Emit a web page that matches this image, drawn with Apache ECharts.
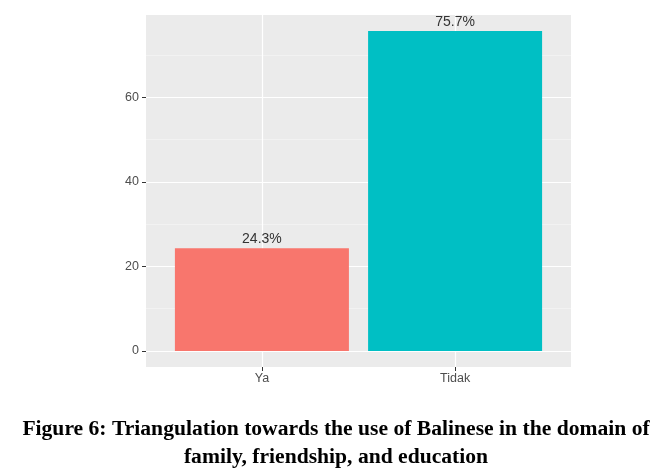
<!DOCTYPE html>
<html>
<head>
<meta charset="utf-8">
<script src="https://cdn.jsdelivr.net/npm/echarts@6/dist/echarts.min.js"></script>
<style>
  html, body { margin: 0; padding: 0; background: #fff; }
  #container1 { width: 653px; height: 476px; }
</style>
</head>
<body>
<div id="container1"></div>
<script>
// categories and percentages
var categories = ['Ya', 'Tidak'];
var values = [24.3, 75.7];
var barColors = ['#F8766D', '#00BFC4'];
var yMajorTicks = [0, 20, 40, 60];
var yMinorTicks = [10, 30, 50, 70];
var caption = 'Figure 6: Triangulation towards the use of Balinese in the domain of\nfamily, friendship, and education';

var dom = document.getElementById('container1');
var myChart = echarts.init(dom);

// ggplot style: 5% expansion on y, 0.6 on discrete x
var yMax = Math.max.apply(null, values);
var yPad = yMax * 0.05;

var barData = values.map(function (v, i) {
    return {
        value: [i + 1, v],
        itemStyle: { color: barColors[i] }
    };
});

var option = {
    animation: false,
    title: {
        text: caption,
        left: 336,
        top: 415,
        padding: 0,
        textAlign: 'center',
        textStyle: {
            fontFamily: 'Liberation Serif',
            fontWeight: 'bold',
            fontSize: 21.6,
            lineHeight: 28,
            color: '#000'
        }
    },
    grid: {
        left: 146, top: 15, width: 425, height: 352,
        show: true,
        backgroundColor: '#EBEBEB',
        borderWidth: 0
    },
    xAxis: {
        type: 'value',
        min: 0.4,
        max: categories.length + 0.6,
        axisLine: { show: false, onZero: false },
        axisTick: { show: true, length: 4, customValues: [1, 2], lineStyle: { color: '#333', width: 1 } },
        axisLabel: {
            customValues: [1, 2],
            color: '#4D4D4D', fontSize: 12.5, margin: 5,
            fontFamily: 'Liberation Sans',
            formatter: function (v) { return categories[Math.round(v) - 1] || ''; }
        },
        splitLine: { show: true, lineStyle: { color: '#fff', width: 1.2 } }
    },
    yAxis: [{
        type: 'value',
        min: -yPad,
        max: yMax + yPad,
        axisLine: { show: false, onZero: false },
        axisTick: { show: true, length: 4, customValues: yMajorTicks, lineStyle: { color: '#333', width: 1 } },
        axisLabel: {
            customValues: yMajorTicks,
            color: '#4D4D4D', fontSize: 12.5, margin: 7,
            fontFamily: 'Liberation Sans'
        },
        splitLine: { show: true, lineStyle: { color: '#fff', width: 1.2 } }
    }, {
        type: 'value',
        min: -yPad,
        max: yMax + yPad,
        axisLine: { show: false, onZero: false },
        axisTick: { show: false, customValues: yMinorTicks },
        axisLabel: { show: false, customValues: yMinorTicks },
        splitLine: { show: true, lineStyle: { color: '#F7F7F7', width: 0.6 } }
    }],
    series: [{
        type: 'bar',
        data: barData,
        barWidth: 174,
        label: {
            show: true,
            position: 'top',
            distance: 2,
            color: '#333',
            fontSize: 14,
            fontFamily: 'Liberation Sans',
            formatter: function (p) { return p.value[1].toFixed(1) + '%'; }
        }
    }]
};

myChart.setOption(option);
</script>
</body>
</html>
